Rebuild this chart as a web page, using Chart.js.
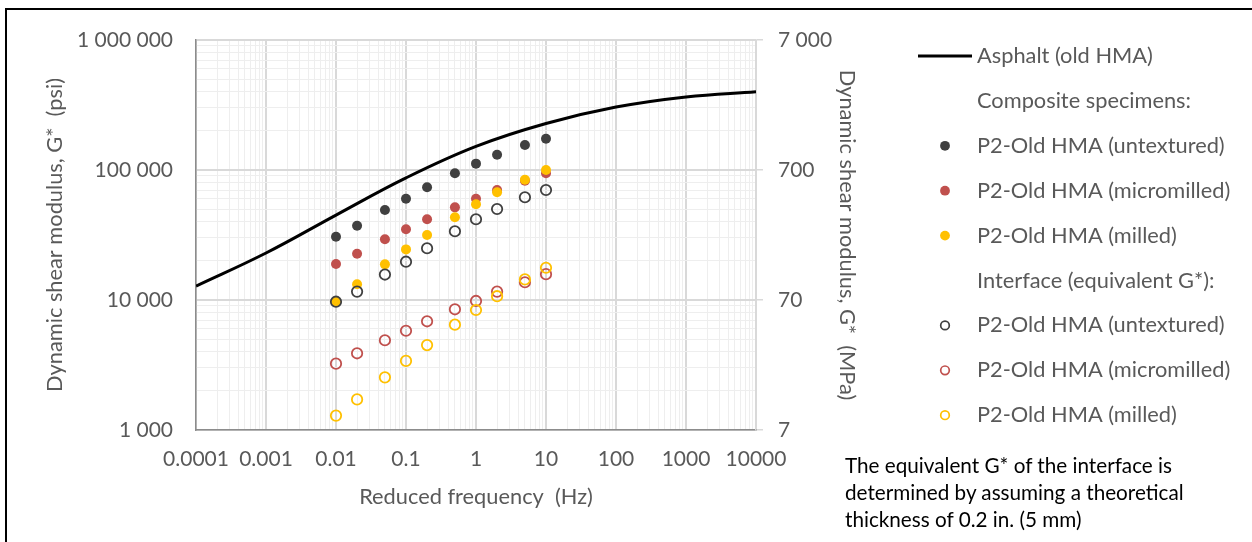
<!DOCTYPE html>
<html>
<head>
<meta charset="utf-8">
<script src="https://cdn.jsdelivr.net/npm/chart.js@4.4.1/dist/chart.umd.min.js"></script>
<style>
  html, body { margin: 0; padding: 0; background: #fff; }
  #wrap { position: relative; width: 1252px; height: 542px; overflow: hidden; background: #fff; }
  #c { position: absolute; left: 0; top: 0; }
  #frame { position: absolute; left: 5px; top: 8px; width: 1300px; height: 600px;
           border-left: 2px solid #000; border-top: 2px solid #000; pointer-events: none; }
  #note { position: absolute; left: 845px; top: 452px; font: 20.7px Lato, sans-serif;
          line-height: 27px; color: #000; white-space: nowrap; }
</style>
</head>
<body>
<div id="wrap">
  <canvas id="c" width="1252" height="542"></canvas>
  <div id="frame"></div>
  <div id="note">The equivalent G* of the interface is<br>determined by assuming a theoretical<br>thickness of 0.2 in. (5 mm)</div>
</div>
<script>
// Reduced frequencies (Hz) of the measured points
const freq = [0.01, 0.02, 0.05, 0.1, 0.2, 0.5, 1, 2, 5, 10];

// Composite specimens, G* (psi)
const compUntextured  = [30700, 37300, 49200, 60100, 73600, 94300, 111900, 131100, 155700, 174100];
const compMicromilled = [18900, 22700, 29300, 35000, 41800, 51600, 60100, 70200, 82700, 94300];
const compMilled      = [9700, 13200, 18800, 24500, 31600, 43300, 54500, 67400, 84200, 100000];

// Interface, equivalent G* (psi)
const intUntextured  = [9700, 11600, 15700, 19700, 25000, 33800, 41800, 50100, 61700, 70200];
const intMicromilled = [3240, 3890, 4900, 5800, 6860, 8480, 9830, 11600, 13700, 15800];
const intMilled      = [1290, 1720, 2540, 3400, 4500, 6460, 8380, 10700, 14400, 17700];

// Asphalt (old HMA) master curve
const masterFreq = [0.0001, 0.001, 0.01, 0.1, 1, 10, 100, 1000, 10000];
const masterG    = [12800, 23000, 45000, 87000, 152000, 228000, 305000, 365000, 400000];

// Axis tick labels
const xTickValues = [0.0001, 0.001, 0.01, 0.1, 1, 10, 100, 1000, 10000];
const xTickLabels = ['0.0001', '0.001', '0.01', '0.1', '1', '10', '100', '1000', '10000'];
const psiTickValues = [1000, 10000, 100000, 1000000];
const psiTickLabels = ['1 000', '10 000', '100 000', '1 000 000'];
const mpaTickValues = [7, 70, 700, 7000];
const mpaTickLabels = ['7', '70', '700', '7 000'];

// Legend rows (headers have no series)
const legendHeaderComposite = 'Composite specimens:';
const legendHeaderInterface = 'Interface (equivalent G*):';

const GREY_TEXT = '#595959';
const FONT = 'Lato';
Chart.defaults.font.family = FONT;

const pts = (xs, ys) => xs.map((x, i) => ({ x, y: ys[i] }));
const sameValue = (a, b) => Math.abs(Math.log10(a) - Math.log10(b)) < 1e-6;
const isDecade = v => v > 0 && Math.abs(Math.log10(v) - Math.round(Math.log10(v))) < 1e-6;
const labelFor = (v, values, labels) => {
  const i = values.findIndex(t => sameValue(t, v));
  return i >= 0 ? labels[i] : '';
};
// 1..9 x 10^k grid positions between two decades
const logGrid = (fromExp, toExp) => {
  const out = [];
  for (let k = fromExp; k < toExp; k++) {
    for (let m = 1; m <= 9; m++) out.push(m * Math.pow(10, k));
  }
  out.push(Math.pow(10, toExp));
  return out;
};
const gridColor = c => (c.tick && isDecade(c.tick.value)) ? '#d9d9d9' : '#eeeeee';
const gridWidth = c => (c.tick && isDecade(c.tick.value)) ? 2 : 1;

function filledSeries(label, values, color, order) {
  return { label, data: pts(freq, values), yAxisID: 'y', order,
    pointRadius: 5, pointHoverRadius: 5, pointBorderWidth: 0,
    pointBackgroundColor: color, pointBorderColor: color, backgroundColor: color, borderColor: color };
}
function openSeries(label, values, color, order) {
  return { label, data: pts(freq, values), yAxisID: 'y', order,
    pointRadius: 5.2, pointHoverRadius: 5.2, pointBorderWidth: 1.8,
    pointBackgroundColor: 'rgba(0,0,0,0)', pointBorderColor: color, backgroundColor: 'rgba(0,0,0,0)', borderColor: color };
}

const datasets = [
  { label: 'Asphalt (old HMA)', data: pts(masterFreq, masterG), yAxisID: 'y', order: 0,
    showLine: true, borderColor: '#000', borderWidth: 3, pointRadius: 0, pointHoverRadius: 0,
    tension: 0.4, fill: false },
  filledSeries('P2-Old HMA (untextured)',  compUntextured,  '#404040', 6),
  filledSeries('P2-Old HMA (micromilled)', compMicromilled, '#C0504D', 5),
  filledSeries('P2-Old HMA (milled)',      compMilled,      '#FFC000', 4),
  openSeries('P2-Old HMA (untextured)',  intUntextured,  '#404040', 3),
  openSeries('P2-Old HMA (micromilled)', intMicromilled, '#C0504D', 2),
  openSeries('P2-Old HMA (milled)',      intMilled,      '#FFC000', 1)
];

// Legend column at the right of the plot
const legendRows = [
  { dataset: 0 },
  { text: legendHeaderComposite },
  { dataset: 1 }, { dataset: 2 }, { dataset: 3 },
  { text: legendHeaderInterface },
  { dataset: 4 }, { dataset: 5 }, { dataset: 6 }
];
const sideLegend = {
  id: 'sideLegend',
  afterDraw(chart) {
    const ctx = chart.ctx;
    const lineStart = 918, lineEnd = 972, markX = 945, textX = 977;
    const top = 56, step = 44.9;
    ctx.save();
    ctx.font = '21.8px ' + FONT;
    ctx.textBaseline = 'middle';
    ctx.textAlign = 'left';
    legendRows.forEach((row, i) => {
      const y = top + i * step;
      let text = row.text;
      if (row.dataset !== undefined) {
        const ds = chart.data.datasets[row.dataset];
        text = ds.label;
        if (ds.showLine) {
          ctx.strokeStyle = ds.borderColor;
          ctx.lineWidth = ds.borderWidth;
          ctx.beginPath();
          ctx.moveTo(lineStart, y);
          ctx.lineTo(lineEnd, y);
          ctx.stroke();
        } else {
          ctx.beginPath();
          if (ds.pointBorderWidth > 0) {
            ctx.arc(markX, y, 4.3, 0, Math.PI * 2);
            ctx.strokeStyle = ds.pointBorderColor;
            ctx.lineWidth = 1.7;
            ctx.stroke();
          } else {
            ctx.arc(markX, y, 4.9, 0, Math.PI * 2);
            ctx.fillStyle = ds.pointBackgroundColor;
            ctx.fill();
          }
        }
      }
      ctx.fillStyle = GREY_TEXT;
      ctx.fillText(text, textX, y);
    });
    ctx.restore();
  }
};

new Chart(document.getElementById('c'), {
  type: 'scatter',
  data: { datasets },
  options: {
    responsive: false,
    animation: false,
    devicePixelRatio: 1,
    events: [],
    layout: { padding: { left: 0, top: 40, right: 392, bottom: 0 } },
    plugins: { legend: { display: false }, tooltip: { enabled: false } },
    scales: {
      x: {
        type: 'logarithmic', position: 'bottom', min: 0.0001, max: 10000,
        afterBuildTicks: s => { s.ticks = logGrid(-4, 4).map(v => ({ value: v })); },
        afterFit: s => { s.height = 112; },
        ticks: { autoSkip: false, maxRotation: 0, minRotation: 0, padding: 17,
                 color: GREY_TEXT, font: { size: 21 },
                 callback: v => labelFor(v, xTickValues, xTickLabels) },
        grid: { drawTicks: false, color: gridColor, lineWidth: gridWidth },
        border: { color: '#8c8c8c', width: 1.5 },
        title: { display: true, text: 'Reduced frequency  (Hz)', color: GREY_TEXT,
                 font: { size: 21.8 }, padding: { top: 0, bottom: 32 } }
      },
      y: {
        type: 'logarithmic', position: 'left', min: 1000, max: 1000000,
        afterBuildTicks: s => { s.ticks = logGrid(3, 6).map(v => ({ value: v })); },
        afterFit: s => { s.width = 196; },
        ticks: { autoSkip: false, padding: 23, color: GREY_TEXT, font: { size: 21 },
                 callback: v => labelFor(v, psiTickValues, psiTickLabels) },
        grid: { drawTicks: false, color: gridColor, lineWidth: gridWidth },
        border: { color: '#8c8c8c', width: 1.5 },
        title: { display: true, text: 'Dynamic shear modulus, G*  (psi)', color: GREY_TEXT,
                 font: { size: 21.8 }, padding: { top: 42, bottom: 0 } }
      },
      y2: {
        type: 'logarithmic', position: 'right', min: 7, max: 7000,
        afterBuildTicks: s => { s.ticks = mpaTickValues.map(v => ({ value: v })); },
        afterFit: s => { s.width = 104; },
        ticks: { autoSkip: false, padding: 15, color: GREY_TEXT, font: { size: 21 },
                 callback: v => labelFor(v, mpaTickValues, mpaTickLabels) },
        grid: { drawOnChartArea: false, drawTicks: true, tickLength: 7, color: '#d9d9d9', lineWidth: 1.5 },
        border: { color: '#d9d9d9', width: 1.5 },
        title: { display: true, text: 'Dynamic shear modulus, G*  (MPa)', color: GREY_TEXT,
                 font: { size: 21.8 }, padding: { top: 0, bottom: 0 } }
      }
    }
  },
  plugins: [sideLegend]
});
</script>
</body>
</html>
